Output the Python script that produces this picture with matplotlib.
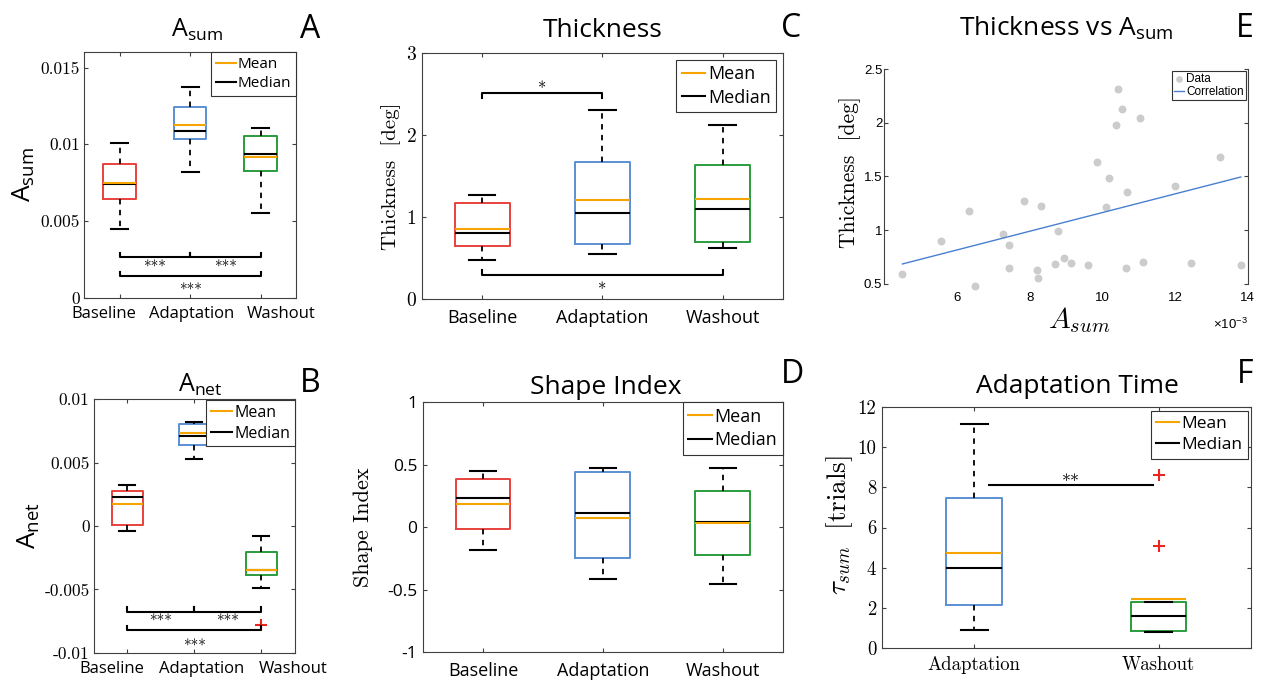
import matplotlib
matplotlib.use('Agg')
import matplotlib.pyplot as plt
from matplotlib.lines import Line2D

plt.rcParams['font.family'] = 'Open Sans'
plt.rcParams['mathtext.fontset'] = 'cm'
plt.rcParams['axes.unicode_minus'] = False

# ---- data ----
groups = ['Baseline', 'Adaptation', 'Washout']

# A_sum
asum_lo = [0.00449, 0.0082, 0.00553]
asum_q1 = [0.00646, 0.01033, 0.00829]
asum_med = [0.00742, 0.01089, 0.00935]
asum_mean = [0.00748, 0.01124, 0.00917]
asum_q3 = [0.0087, 0.01243, 0.01052]
asum_hi = [0.01006, 0.01377, 0.01106]
asum_out = [[], [], []]

# A_net
anet_lo = [-0.00039, 0.00529, -0.00492]
anet_q1 = [0.00008, 0.0064, -0.00389]
anet_med = [0.00229, 0.00711, -0.0035]
anet_mean = [0.00174, 0.00737, -0.00345]
anet_q3 = [0.00276, 0.00808, -0.00203]
anet_hi = [0.00326, 0.00818, -0.00076]
anet_out = [[], [], [-0.00779]]

# Thickness
thick_lo = [0.476, 0.554, 0.627]
thick_q1 = [0.651, 0.672, 0.696]
thick_med = [0.802, 1.054, 1.103]
thick_mean = [0.859, 1.209, 1.221]
thick_q3 = [1.176, 1.673, 1.632]
thick_hi = [1.266, 2.308, 2.12]
thick_out = [[], [], []]

# Shape index
shape_lo = [-0.179, -0.413, -0.453]
shape_q1 = [-0.016, -0.245, -0.219]
shape_med = [0.237, 0.115, 0.043]
shape_mean = [0.189, 0.075, 0.037]
shape_q3 = [0.387, 0.445, 0.291]
shape_hi = [0.453, 0.477, 0.472]
shape_out = [[], [], []]

# Adaptation time
tau_groups = ['Adaptation', 'Washout']
tau_lo = [0.88, 0.80]
tau_q1 = [2.14, 0.83]
tau_med = [3.97, 1.58]
tau_mean = [4.75, 2.44]
tau_q3 = [7.49, 2.27]
tau_hi = [11.15, 2.27]
tau_out = [[], [8.6, 5.08]]

# significance brackets (x1, x2, y, label)
asum_sig = [(1, 2, 0.00267, '***'), (2, 3, 0.00267, '***'), (1, 3, 0.00143, '***')]
anet_sig = [(1, 2, -0.00676, '***'), (2, 3, -0.00676, '***'), (1, 3, -0.00824, '***')]
thick_sig = [(1, 2, 2.52, '*'), (1, 3, 0.29, '*')]
tau_sig = [(1.08, 1.97, 8.1, '**')]

# Thickness vs A_sum scatter (x in units of 1e-3)
sc_x = [4.50, 5.55, 6.34, 6.49, 7.27, 7.42, 7.43, 7.85, 8.19, 8.23, 8.31, 8.69,
        8.79, 8.95, 9.13, 9.60, 9.84, 10.09, 10.19, 10.38, 10.44, 10.53, 10.64,
        10.68, 11.05, 11.13, 12.01, 12.43, 13.25, 13.81]
sc_y = [0.59, 0.90, 1.18, 0.48, 0.96, 0.86, 0.65, 1.27, 0.625, 0.556, 1.22, 0.684,
        0.995, 0.743, 0.693, 0.674, 1.637, 1.21, 1.484, 1.977, 2.313, 2.126, 0.65,
        1.35, 2.045, 0.70, 1.407, 0.693, 1.678, 0.674]
corr_x = [4.50, 13.81]
corr_y = [0.684, 1.494]

box_colors = ['#E8413B', '#5A8FD3', '#2A9B3C']
mean_color = '#F5A400'
axis_color = '#404040'
W, H = 1267, 682


def pos(l, r, t, b):
    return [l / W, 1 - b / H, (r - l) / W, (b - t) / H]


def style_axes(ax):
    for s in ax.spines.values():
        s.set_color(axis_color)
        s.set_linewidth(0.8)
    ax.tick_params(direction='in', length=3, width=0.8, color=axis_color,
                   top=True, right=True)


def boxes(ax, lo, q1, med, mean, q3, hi, out, colors, width, capw):
    stats = []
    for i in range(len(lo)):
        stats.append(dict(whislo=lo[i], q1=q1[i], med=med[i], mean=mean[i],
                          q3=q3[i], whishi=hi[i], fliers=out[i]))
    n = len(stats)
    res = ax.bxp(stats, positions=list(range(1, n + 1)), widths=width,
                 capwidths=capw, showmeans=True, meanline=True,
                 meanprops=dict(color=mean_color, ls='-', lw=1.5),
                 medianprops=dict(color='k', lw=1.5),
                 whiskerprops=dict(color='k', ls=(0, (3, 3)), lw=1.3),
                 capprops=dict(color='k', lw=1.5),
                 flierprops=dict(marker='+', markeredgecolor='#E8261E',
                                 markersize=9, markeredgewidth=1.5, ls='none'),
                 boxprops=dict(lw=1.4), manage_ticks=False)
    for b, c in zip(res['boxes'], colors):
        b.set_color(c)
    for m in res['means']:
        m.set_zorder(3)


def sig(ax, items, cap, offsets, fs):
    y0, y1 = ax.get_ylim()
    h = cap * (y1 - y0)
    for (x1, x2, y, lab), off in zip(items, offsets):
        if h != 0:
            ax.plot([x1, x1, x2, x2], [y + h, y, y, y + h], color='k', lw=1.5)
        else:
            ax.plot([x1, x2], [y, y], color='k', lw=1.5)
        ax.annotate(lab, ((x1 + x2) / 2, y), xytext=(0, off),
                    textcoords='offset points', ha='center', va='baseline',
                    family='cmr10', fontsize=fs)


def spread_labels(ax, labels, shifts, fs):
    # category labels pushed apart as in the original (they would collide)
    ax.set_xticks(range(1, len(labels) + 1), [''] * len(labels))
    for i, (lab, dx) in enumerate(zip(labels, shifts)):
        ax.annotate(lab, (i + 1, 0), xycoords=('data', 'axes fraction'),
                    xytext=(dx, -6), textcoords='offset points',
                    ha='center', va='top', fontsize=fs)


def mean_median_legend(ax, anchor, fs):
    hs = [Line2D([], [], color=mean_color, lw=1.5), Line2D([], [], color='k', lw=1.5)]
    leg = ax.legend(hs, ['Mean', 'Median'], loc='upper right', bbox_to_anchor=anchor,
                    borderaxespad=0, fancybox=False, edgecolor='#333333',
                    framealpha=1, handlelength=1.3, handletextpad=0.15,
                    borderpad=0.3, labelspacing=0.3, prop=dict(size=fs))
    leg.get_frame().set_linewidth(0.8)


def cm_ticks(vals):
    return ['%g' % v for v in vals]


fig = plt.figure(figsize=(12.67, 6.82), dpi=100)

# ---------- A ----------
axA = fig.add_axes(pos(84.3, 296, 52.3, 297.7))
style_axes(axA)
boxes(axA, asum_lo, asum_q1, asum_med, asum_mean, asum_q3, asum_hi, asum_out,
      box_colors, 0.46, 0.24)
axA.set_xlim(0.5, 3.5)
axA.set_ylim(0, 0.016)
ytA = [0, 0.005, 0.01, 0.015]
axA.set_yticks(ytA, cm_ticks(ytA), family='cmr10', fontsize=12.5)
spread_labels(axA, groups, [-11.5, 1.2, 14.4], 12)
axA.tick_params(axis='y', pad=3)
axA.set_title(r'$\mathregular{A_{sum}}$', fontsize=18, pad=11, x=0.532)
axA.set_ylabel(r'$\mathregular{A_{sum}}$', fontsize=19, va='center')
axA.yaxis.set_label_coords(-0.287, 0.5)
sig(axA, asum_sig, 0.017, [-11.4, -11.4, -14], 11)
mean_median_legend(axA, (1, 1), 11)

# ---------- B ----------
axB = fig.add_axes(pos(93.7, 294.7, 399.3, 652.7))
style_axes(axB)
boxes(axB, anet_lo, anet_q1, anet_med, anet_mean, anet_q3, anet_hi, anet_out,
      box_colors, 0.467, 0.24)
axB.set_xlim(0.5, 3.5)
axB.set_ylim(-0.01, 0.01)
ytB = [-0.01, -0.005, 0, 0.005, 0.01]
axB.set_yticks(ytB, cm_ticks(ytB), family='cmr10', fontsize=12.5)
spread_labels(axB, groups, [-11.3, 5.2, 23], 12)
axB.tick_params(axis='y', pad=3)
axB.set_title(r'$\mathregular{A_{net}}$', fontsize=18, pad=5.5, x=0.529)
axB.set_ylabel(r'$\mathregular{A_{net}}$', fontsize=19, va='center')
axB.yaxis.set_label_coords(-0.322, 0.5)
sig(axB, anet_sig, 0.017, [-11.1, -11.1, -15], 11)
mean_median_legend(axB, (1, 0.997), 11.5)

# ---------- C ----------
axC = fig.add_axes(pos(422, 782.7, 53.3, 299))
style_axes(axC)
boxes(axC, thick_lo, thick_q1, thick_med, thick_mean, thick_q3, thick_hi, thick_out,
      box_colors, 0.458, 0.22)
axC.set_xlim(0.5, 3.5)
axC.set_ylim(0, 3)
ytC = [0, 1, 2, 3]
axC.set_yticks(ytC, cm_ticks(ytC), family='cmr10', fontsize=14)
axC.set_xticks([1, 2, 3], groups, fontsize=13)
axC.tick_params(axis='x', pad=7)
axC.tick_params(axis='y', pad=4)
axC.set_title('Thickness', fontsize=19, pad=12)
axC.set_ylabel(r'Thickness  [deg]', family='cmr10', fontsize=15, va='center')
axC.yaxis.set_label_coords(-0.086, 0.5)
sig(axC, thick_sig[:1], -0.022, [-1], 12)
sig(axC, thick_sig[1:], 0.022, [-14.4], 12)
mean_median_legend(axC, (0.982, 0.973), 13)

# ---------- D ----------
axD = fig.add_axes(pos(423, 782.7, 402.3, 652.3))
style_axes(axD)
boxes(axD, shape_lo, shape_q1, shape_med, shape_mean, shape_q3, shape_hi, shape_out,
      box_colors, 0.457, 0.22)
axD.set_xlim(0.5, 3.5)
axD.set_ylim(-1, 1)
ytD = [-1, -0.5, 0, 0.5, 1]
axD.set_yticks(ytD, cm_ticks(ytD), fontsize=12.5)
axD.set_xticks([1, 2, 3], groups, fontsize=13)
axD.tick_params(axis='x', pad=7)
axD.tick_params(axis='y', pad=4)
axD.set_title('Shape Index', fontsize=19, pad=6, x=0.507)
axD.set_ylabel('Shape Index', family='cmr10', fontsize=16, va='center')
axD.yaxis.set_label_coords(-0.167, 0.5)
mean_median_legend(axD, (1, 1), 13)

# ---------- E ----------
axE = fig.add_axes(pos(884.3, 1247.7, 69, 283.7))
for s in ['top', 'bottom']:
    axE.spines[s].set_visible(False)
for s in ['left', 'right']:
    axE.spines[s].set_color(axis_color)
    axE.spines[s].set_linewidth(0.8)
axE.scatter(sc_x, sc_y, s=22, color='#CCCCCC', label='Data', clip_on=False, zorder=2)
axE.plot(corr_x, corr_y, color='#4A7FCF', lw=1.0, label='Correlation')
axE.set_xlim(4.0, 14)
axE.set_ylim(0.5, 2.5)
axE.set_xticks([6, 8, 10, 12, 14], ['6', '8', '10', '12', '14'],
               family='Liberation Sans', fontsize=9.5)
ytE = [0.5, 1, 1.5, 2, 2.5]
axE.set_yticks(ytE, cm_ticks(ytE), family='Liberation Sans', fontsize=9.5)
axE.tick_params(axis='y', direction='in', length=3, width=0.8, color=axis_color,
                right=True, pad=1.5)
axE.tick_params(axis='x', length=0, pad=6)
axE.text(1.0, -0.19, r'$\mathregular{\times10^{-3}}$', transform=axE.transAxes,
         ha='right', va='center', family='Liberation Sans', fontsize=9.5)
axE.set_title(r'Thickness vs $\mathregular{A_{sum}}$', fontsize=19, pad=24)
axE.set_ylabel(r'Thickness  [deg]', family='cmr10', fontsize=15.5, va='center')
axE.yaxis.set_label_coords(-0.094, 0.52)
axE.set_xlabel(r'$A_{sum}$', fontsize=21, va='center')
axE.xaxis.set_label_coords(0.536, -0.169)
legE = axE.legend(loc='upper right', bbox_to_anchor=(0.994, 0.99), borderaxespad=0,
                  fancybox=False, edgecolor='#333333', framealpha=1,
                  handlelength=0.9, handletextpad=0.15, borderpad=0.15,
                  labelspacing=0.1, prop=dict(family='Liberation Sans', size=8.5),
                  markerscale=0.8)
legE.get_frame().set_linewidth(0.8)

# ---------- F ----------
axF = fig.add_axes(pos(881.7, 1251, 407, 648))
style_axes(axF)
boxes(axF, tau_lo, tau_q1, tau_med, tau_mean, tau_q3, tau_hi, tau_out,
      [box_colors[1], box_colors[2]], 0.3, 0.146)
axF.set_xlim(0.5, 2.5)
axF.set_ylim(0, 12)
ytF = [0, 2, 4, 6, 8, 10, 12]
axF.set_yticks(ytF, cm_ticks(ytF), family='cmr10', fontsize=13.5)
axF.set_xticks([1, 2], tau_groups, family='cmr10', fontsize=13.5)
axF.tick_params(axis='x', pad=6)
axF.tick_params(axis='y', pad=4)
axF.set_title('Adaptation Time', fontsize=19, pad=10, x=0.53)
axF.set_ylabel(r'$\tau_{sum}\ \ \mathrm{[trials]}$', fontsize=19.5, va='center')
axF.yaxis.set_label_coords(-0.113, 0.51)
sig(axF, tau_sig, 0.0, [-1.5], 13)
mean_median_legend(axF, (0.991, 0.985), 12.5)

# panel letters
for lab, x, y in [('A', 310, 38), ('B', 310, 392), ('C', 791, 37),
                  ('D', 792, 383), ('E', 1245, 37), ('F', 1245, 383)]:
    fig.text(x / W, 1 - y / H, lab, ha='center', va='baseline', fontsize=23)

fig.savefig('out.png', dpi=100)
